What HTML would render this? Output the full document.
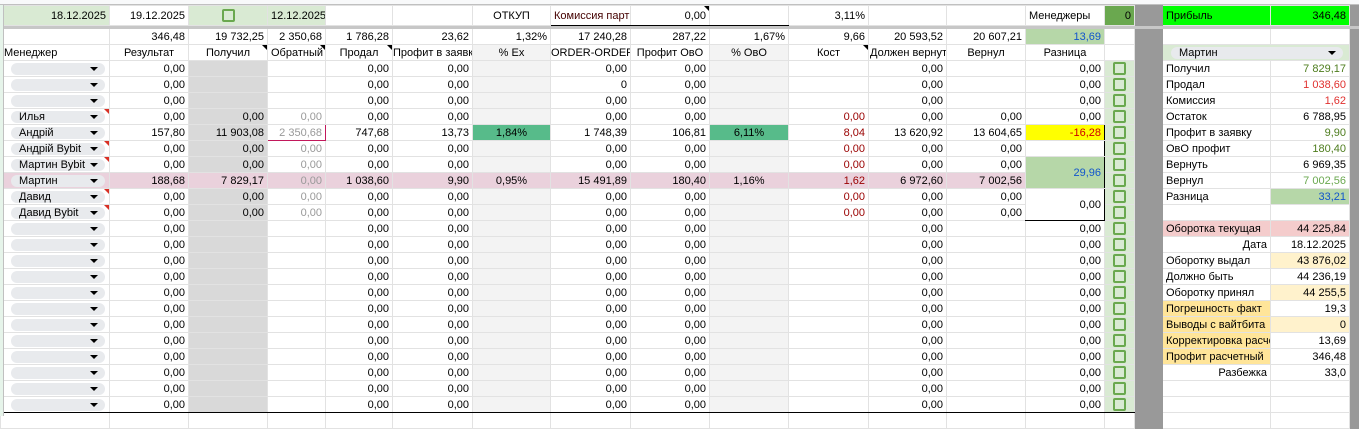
<!DOCTYPE html>
<html><head><meta charset="utf-8">
<style>
*{box-sizing:border-box}
body{margin:0;width:1359px;height:416px;overflow:hidden;background:#fff;position:relative;font-family:"Liberation Sans",Arial,sans-serif;font-size:11px;color:#000}
table{border-collapse:collapse;table-layout:fixed;position:absolute;left:0;top:5px;width:1359px}
td{border:1px solid #e2e2e2;padding:0 3px;text-align:right;white-space:nowrap;overflow:hidden;height:16px;line-height:14px;position:relative}
tr.r1 td{height:20px}
tr.sep td{height:3px;background:#c7c7c7;border-color:#c7c7c7;padding:0}
.g{background:#d9d9d9}.l{background:#f3f3f3}.ck{background:#d9ead3;text-align:center}
.dk{background:#999;border-color:#999}
.gl{background:#d9ead3}
.gy{color:#999}.rd{color:#990000}
.c{text-align:center}.L{text-align:left}
.bt{border-top:1px solid #000}
.bl{border-left:1px solid #000}
.pk{background:#ead1dc}
.box{display:inline-block;width:13px;height:13px;border:2px solid #6aa84f;border-radius:2px;vertical-align:middle}
.chip{position:absolute;left:10px;right:4px;top:2px;height:12px;background:#e8eaed;border-radius:7px;text-align:left;padding-left:8px;line-height:12px;font-size:11px}
.chip:after{content:"";position:absolute;right:7px;top:4px;border-left:4px solid transparent;border-right:4px solid transparent;border-top:4px solid #000}
.n:before{content:"";position:absolute;right:0;top:0;border-left:5px solid transparent;border-top:5px solid #d93025}
.nb:before{content:"";position:absolute;right:0;top:0;border-left:5px solid transparent;border-top:5px solid #000}
.top{position:absolute;left:0;top:0;width:1359px;height:5px;background:#f8f9fa;border-bottom:1px solid #c0c0c0}
.side{position:absolute;left:0;top:5px;width:4px;height:411px;background:#e6f4ea;border-right:1px solid #c0c0c0;z-index:2}
</style></head><body>
<div class="top"></div>
<table>
<colgroup><col style="width:109px"><col style="width:79px"><col style="width:79px"><col style="width:58px"><col style="width:67px"><col style="width:80px"><col style="width:78px"><col style="width:80px"><col style="width:79px"><col style="width:79px"><col style="width:80px"><col style="width:78px"><col style="width:79px"><col style="width:79px"><col style="width:30px"><col style="width:28px"><col style="width:108px"><col style="width:79px"><col style="width:10px"></colgroup>
<tr class="r1"><td class="gl">18.12.2025</td><td>19.12.2025</td><td class="gl c"><span class="box"></span></td><td class="gl">12.12.2025</td><td></td><td></td><td class="c">ОТКУП</td><td class="L" style="border-bottom:1px solid #000;color:#400">Комиссия партн</td><td class="nb" style="border-bottom:1px solid #000">0,00</td><td style="border-bottom:1px solid #000"></td><td>3,11%</td><td></td><td></td><td class="L">Менеджеры</td><td style="background:#6aa84f">0</td><td class="dk"></td><td class="L" style="background:#00ff00">Прибыль</td><td style="background:#00ff00">346,48</td><td class="dk"></td></tr>
<tr class="sep"><td colspan="19"></td></tr>
<tr><td></td><td>346,48</td><td>19 732,25</td><td>2 350,68</td><td>1 786,28</td><td>23,62</td><td>1,32%</td><td class="bl">17 240,28</td><td>287,22</td><td>1,67%</td><td class="bl">9,66</td><td>20 593,52</td><td>20 607,21</td><td style="background:#b6d7a8;color:#1155cc">13,69</td><td></td><td class="dk"></td><td></td><td></td><td class="dk"></td></tr>
<tr><td class="L">Менеджер</td><td class="c">Результат</td><td class="c nb">Получил</td><td class="c nb">Обратный</td><td class="c nb">Продал</td><td class="c" style="padding:0">Профит в заявку</td><td class="c l">% Ex</td><td class="c bl" style="padding:0">ORDER-ORDER</td><td class="c">Профит ОвО</td><td class="c l">% ОвО</td><td class="c bl nb">Кост</td><td class="L" style="padding:0 1px">Должен вернуть</td><td class="c">Вернул</td><td class="c">Разница</td><td></td><td class="dk"></td><td colspan="2" class="gl"><div class="chip" style="left:8px;right:6px">Мартин</div></td><td class="dk"></td></tr>

<tr><td><div class="chip"></div></td><td>0,00</td><td class="g"></td><td></td><td>0,00</td><td>0,00</td><td class="l"></td><td class="bl">0,00</td><td>0,00</td><td class="l"></td><td class="bl"></td><td>0,00</td><td></td><td>0,00</td><td class="ck"><span class="box"></span></td><td class="dk"></td><td class="L">Получил</td><td style="color:#4e7d1e">7 829,17</td><td class="dk"></td></tr>
<tr><td><div class="chip"></div></td><td>0,00</td><td class="g"></td><td></td><td>0,00</td><td>0,00</td><td class="l"></td><td class="bl">0</td><td>0,00</td><td class="l"></td><td class="bl"></td><td>0,00</td><td></td><td>0,00</td><td class="ck"><span class="box"></span></td><td class="dk"></td><td class="L">Продал</td><td style="color:#e0312f">1 038,60</td><td class="dk"></td></tr>
<tr><td><div class="chip"></div></td><td>0,00</td><td class="g"></td><td></td><td>0,00</td><td>0,00</td><td class="l"></td><td class="bl">0,00</td><td>0,00</td><td class="l"></td><td class="bl"></td><td>0,00</td><td></td><td>0,00</td><td class="ck"><span class="box"></span></td><td class="dk"></td><td class="L">Комиссия</td><td style="color:#e0312f">1,62</td><td class="dk"></td></tr>
<tr><td class="n"><div class="chip">Илья</div></td><td>0,00</td><td class="g">0,00</td><td class="gy">0,00</td><td>0,00</td><td>0,00</td><td class="l"></td><td class="bl">0,00</td><td>0,00</td><td class="l"></td><td class="bl rd">0,00</td><td>0,00</td><td>0,00</td><td>0,00</td><td class="ck"><span class="box"></span></td><td class="dk"></td><td class="L">Остаток</td><td>6 788,95</td><td class="dk"></td></tr>
<tr><td class="bt"><div class="chip">Андрій</div></td><td class="bt">157,80</td><td class="g bt">11 903,08</td><td class="gy bt" style="border:1px solid #c2185b">2 350,68</td><td class="bt">747,68</td><td class="bt">13,73</td><td class="c bt" style="background:#57bb8a">1,84%</td><td class="bt bl">1 748,39</td><td class="bt">106,81</td><td class="c bt" style="background:#57bb8a">6,11%</td><td class="bt bl rd">8,04</td><td class="bt">13 620,92</td><td class="bt">13 604,65</td><td class="bt" style="background:#ffff00;color:#cc0000;border-right:1px solid #000">-16,28</td><td class="ck"><span class="box"></span></td><td class="dk"></td><td class="L">Профит в заявку</td><td style="color:#4e7d1e">9,90</td><td class="dk"></td></tr>
<tr><td class="n"><div class="chip">Андрій Bybit</div></td><td>0,00</td><td class="g">0,00</td><td class="gy">0,00</td><td>0,00</td><td>0,00</td><td class="l"></td><td class="bl">0,00</td><td>0,00</td><td class="l"></td><td class="bl rd">0,00</td><td>0,00</td><td>0,00</td><td style="border-right:1px solid #000"></td><td class="ck"><span class="box"></span></td><td class="dk"></td><td class="L">ОвО профит</td><td style="color:#4e7d1e">180,40</td><td class="dk"></td></tr>
<tr><td class="bt n"><div class="chip">Мартин Bybit</div></td><td class="bt">0,00</td><td class="g bt">0,00</td><td class="gy bt">0,00</td><td class="bt">0,00</td><td class="bt">0,00</td><td class="l bt"></td><td class="bt bl">0,00</td><td class="bt">0,00</td><td class="l bt"></td><td class="bt bl rd">0,00</td><td class="bt">0,00</td><td class="bt">0,00</td><td rowspan="2" class="bt" style="background:#b6d7a8;color:#1155cc;border-right:1px solid #000">29,96</td><td class="ck"><span class="box"></span></td><td class="dk"></td><td class="L">Вернуть</td><td>6 969,35</td><td class="dk"></td></tr>
<tr class="pkr"><td class="pk"><div class="chip">Мартин</div></td><td class="pk">188,68</td><td class="pk">7 829,17</td><td class="pk gy">0,00</td><td class="pk">1 038,60</td><td class="pk">9,90</td><td class="pk c">0,95%</td><td class="pk bl">15 491,89</td><td class="pk">180,40</td><td class="pk c">1,16%</td><td class="pk bl rd">1,62</td><td class="pk">6 972,60</td><td class="pk">7 002,56</td><td class="ck"><span class="box"></span></td><td class="dk"></td><td class="L">Вернул</td><td style="color:#6aa84f">7 002,56</td><td class="dk"></td></tr>
<tr><td class="bt n"><div class="chip">Давид</div></td><td class="bt">0,00</td><td class="g bt">0,00</td><td class="gy bt">0,00</td><td class="bt">0,00</td><td class="bt">0,00</td><td class="l bt"></td><td class="bt bl">0,00</td><td class="bt">0,00</td><td class="l bt"></td><td class="bt bl rd">0,00</td><td class="bt">0,00</td><td class="bt">0,00</td><td rowspan="2" class="bt" style="border-right:1px solid #000;border-bottom:1px solid #000">0,00</td><td class="ck"><span class="box"></span></td><td class="dk"></td><td class="L">Разница</td><td style="background:#b6d7a8;color:#1155cc">33,21</td><td class="dk"></td></tr>
<tr><td class="n"><div class="chip">Давид Bybit</div></td><td>0,00</td><td class="g">0,00</td><td class="gy">0,00</td><td>0,00</td><td>0,00</td><td class="l"></td><td class="bl">0,00</td><td>0,00</td><td class="l"></td><td class="bl rd">0,00</td><td>0,00</td><td>0,00</td><td class="ck"><span class="box"></span></td><td class="dk"></td><td></td><td></td><td class="dk"></td></tr>

<tr><td class="bt"><div class="chip"></div></td><td class="bt">0,00</td><td class="g bt"></td><td class="bt"></td><td class="bt">0,00</td><td class="bt">0,00</td><td class="l bt"></td><td class="bt bl">0,00</td><td class="bt">0,00</td><td class="l bt"></td><td class="bt bl"></td><td class="bt">0,00</td><td class="bt"></td><td class="bt">0,00</td><td class="ck"><span class="box"></span></td><td class="dk"></td><td class="L" style="background:#f4cccc">Оборотка текущая</td><td style="background:#f4cccc">44 225,84</td><td class="dk"></td></tr>
<tr><td><div class="chip"></div></td><td>0,00</td><td class="g"></td><td></td><td>0,00</td><td>0,00</td><td class="l"></td><td class="bl">0,00</td><td>0,00</td><td class="l"></td><td class="bl"></td><td>0,00</td><td></td><td>0,00</td><td class="ck"><span class="box"></span></td><td class="dk"></td><td>Дата</td><td>18.12.2025</td><td class="dk"></td></tr>
<tr><td><div class="chip"></div></td><td>0,00</td><td class="g"></td><td></td><td>0,00</td><td>0,00</td><td class="l"></td><td class="bl">0,00</td><td>0,00</td><td class="l"></td><td class="bl"></td><td>0,00</td><td></td><td>0,00</td><td class="ck"><span class="box"></span></td><td class="dk"></td><td class="L">Оборотку выдал</td><td style="background:#fff2cc">43 876,02</td><td class="dk"></td></tr>
<tr><td><div class="chip"></div></td><td>0,00</td><td class="g"></td><td></td><td>0,00</td><td>0,00</td><td class="l"></td><td class="bl">0,00</td><td>0,00</td><td class="l"></td><td class="bl"></td><td>0,00</td><td></td><td>0,00</td><td class="ck"><span class="box"></span></td><td class="dk"></td><td class="L">Должно быть</td><td>44 236,19</td><td class="dk"></td></tr>
<tr><td><div class="chip"></div></td><td>0,00</td><td class="g"></td><td></td><td>0,00</td><td>0,00</td><td class="l"></td><td class="bl">0,00</td><td>0,00</td><td class="l"></td><td class="bl"></td><td>0,00</td><td></td><td>0,00</td><td class="ck"><span class="box"></span></td><td class="dk"></td><td class="L">Оборотку принял</td><td style="background:#fff2cc">44 255,5</td><td class="dk"></td></tr>
<tr><td><div class="chip"></div></td><td>0,00</td><td class="g"></td><td></td><td>0,00</td><td>0,00</td><td class="l"></td><td class="bl">0,00</td><td>0,00</td><td class="l"></td><td class="bl"></td><td>0,00</td><td></td><td>0,00</td><td class="ck"><span class="box"></span></td><td class="dk"></td><td class="L" style="background:#ffe599">Погрешность факт</td><td>19,3</td><td class="dk"></td></tr>
<tr><td><div class="chip"></div></td><td>0,00</td><td class="g"></td><td></td><td>0,00</td><td>0,00</td><td class="l"></td><td class="bl">0,00</td><td>0,00</td><td class="l"></td><td class="bl"></td><td>0,00</td><td></td><td>0,00</td><td class="ck"><span class="box"></span></td><td class="dk"></td><td class="L" style="background:#ffe599">Выводы с вайтбита</td><td style="background:#fff2cc">0</td><td class="dk"></td></tr>
<tr><td><div class="chip"></div></td><td>0,00</td><td class="g"></td><td></td><td>0,00</td><td>0,00</td><td class="l"></td><td class="bl">0,00</td><td>0,00</td><td class="l"></td><td class="bl"></td><td>0,00</td><td></td><td>0,00</td><td class="ck"><span class="box"></span></td><td class="dk"></td><td class="L" style="background:#ffe599">Корректировка расчет</td><td>13,69</td><td class="dk"></td></tr>
<tr><td><div class="chip"></div></td><td>0,00</td><td class="g"></td><td></td><td>0,00</td><td>0,00</td><td class="l"></td><td class="bl">0,00</td><td>0,00</td><td class="l"></td><td class="bl"></td><td>0,00</td><td></td><td>0,00</td><td class="ck"><span class="box"></span></td><td class="dk"></td><td class="L" style="background:#ffe599">Профит расчетный</td><td>346,48</td><td class="dk"></td></tr>
<tr><td><div class="chip"></div></td><td>0,00</td><td class="g"></td><td></td><td>0,00</td><td>0,00</td><td class="l"></td><td class="bl">0,00</td><td>0,00</td><td class="l"></td><td class="bl"></td><td>0,00</td><td></td><td>0,00</td><td class="ck"><span class="box"></span></td><td class="dk"></td><td>Разбежка</td><td>33,0</td><td class="dk"></td></tr>
<tr><td><div class="chip"></div></td><td>0,00</td><td class="g"></td><td></td><td>0,00</td><td>0,00</td><td class="l"></td><td class="bl">0,00</td><td>0,00</td><td class="l"></td><td class="bl"></td><td>0,00</td><td></td><td>0,00</td><td class="ck"><span class="box"></span></td><td class="dk"></td><td></td><td></td><td class="dk"></td></tr>
<tr><td style="border-bottom:1px solid #000"><div class="chip"></div></td><td style="border-bottom:1px solid #000">0,00</td><td class="g" style="border-bottom:1px solid #000"></td><td style="border-bottom:1px solid #000"></td><td style="border-bottom:1px solid #000">0,00</td><td style="border-bottom:1px solid #000">0,00</td><td class="l" style="border-bottom:1px solid #000"></td><td class="bl" style="border-bottom:1px solid #000">0,00</td><td style="border-bottom:1px solid #000">0,00</td><td class="l" style="border-bottom:1px solid #000"></td><td class="bl" style="border-bottom:1px solid #000"></td><td style="border-bottom:1px solid #000">0,00</td><td style="border-bottom:1px solid #000"></td><td style="border-bottom:1px solid #000">0,00</td><td class="ck" style="border-bottom:1px solid #000"><span class="box"></span></td><td class="dk"></td><td></td><td></td><td class="dk"></td></tr>
<tr><td></td><td></td><td></td><td></td><td></td><td></td><td></td><td></td><td></td><td></td><td></td><td></td><td></td><td></td><td></td><td class="dk"></td><td></td><td></td><td class="dk"></td></tr>
</table>
<div class="side"></div>
</body></html>
